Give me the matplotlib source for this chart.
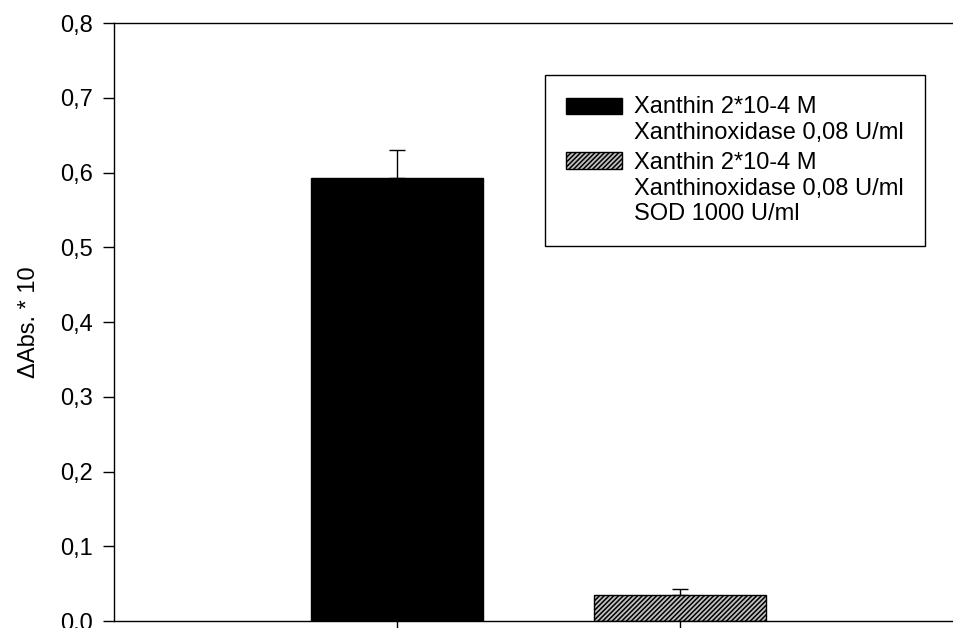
import matplotlib

matplotlib.use("Agg")
import matplotlib.pyplot as plt
from matplotlib.patches import Rectangle
from matplotlib.container import BarContainer
from matplotlib.legend_handler import HandlerPatch, update_from_first_child
from matplotlib.ticker import FuncFormatter, MultipleLocator

plt.rcParams["font.family"] = ["Liberation Sans", "DejaVu Sans"]
plt.rcParams["hatch.linewidth"] = 1.1

# values
positions = [1, 2]
means = [0.593, 0.035]
errors = [0.037, 0.0075]
labels = [
    "Xanthin 2*10-4 M\nXanthinoxidase 0,08 U/ml",
    "Xanthin 2*10-4 M\nXanthinoxidase 0,08 U/ml\nSOD 1000 U/ml",
]

FS = 17
LW = 1.0

fig = plt.figure(figsize=(9.54, 6.28), dpi=100)
ax = fig.add_axes([0.1195, 0.0111, 0.89, 0.952])

b1 = ax.bar(positions[0], means[0], width=0.61, color="black", edgecolor="black",
            linewidth=LW, label=labels[0], zorder=2)
b2 = ax.bar(positions[1], means[1], width=0.61, color="#c0c0c0", edgecolor="black",
            hatch="///////", linewidth=LW, label=labels[1], zorder=2)
ax.errorbar(positions, means, yerr=[[0, 0], errors], fmt="none", ecolor="black",
            elinewidth=LW, capsize=6, capthick=LW, zorder=1)

ax.set_xlim(0, 3)
ax.set_ylim(0, 0.8)
ax.set_xticks(positions)
ax.set_xticklabels([])
ax.yaxis.set_major_locator(MultipleLocator(0.1))
ax.yaxis.set_major_formatter(FuncFormatter(lambda v, _: f"{v:.1f}".replace(".", ",")))
ax.tick_params(direction="out", length=8, width=LW, labelsize=FS, pad=7)
for s in ax.spines.values():
    s.set_linewidth(LW)

ax.set_ylabel("\u0394Abs. * 10", fontsize=FS)
ax.yaxis.set_label_coords(-0.0872, 0.5)


def top_aligned_patch(legend, orig_handle, xdescent, ydescent, width, height, fontsize):
    # put the swatch next to the first line of a multi-line label
    n = orig_handle.get_label().count("\n")
    shift = n * 0.5 * 1.2 * fontsize
    return Rectangle((-xdescent, -ydescent + shift), width, height)


leg = ax.legend(handles=[b1, b2], loc="upper left", bbox_to_anchor=(0.5077, 0.913),
                borderaxespad=0, fontsize=FS, fancybox=False, framealpha=1,
                edgecolor="black", borderpad=0.9, handlelength=2.37,
                handleheight=0.68, handletextpad=0.5, labelspacing=0.35,
                handler_map={BarContainer: HandlerPatch(patch_func=top_aligned_patch,
                                                        update_func=update_from_first_child)})
leg.get_frame().set_linewidth(LW)

fig.savefig("out.png", dpi=100)
